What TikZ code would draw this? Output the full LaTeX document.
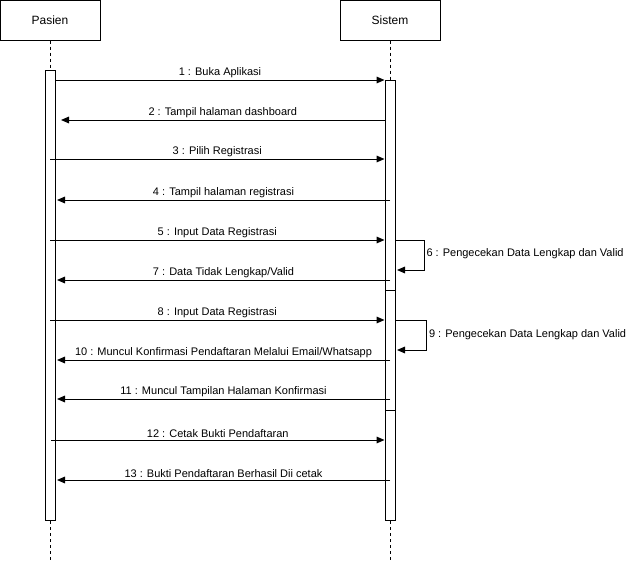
\documentclass[tikz,border=0pt]{standalone}
\usepackage{fontspec}
\setmainfont{Liberation Sans}
\usetikzlibrary{positioning, arrows.meta}

\begin{document}
\begin{tikzpicture}[x = 0.75pt, y = -0.75pt, line width = 0.75pt,
		actor/.style={rectangle, draw, inner sep = 0pt, minimum width = 75pt, minimum height = 30pt, font = \fontsize{9pt}{11pt}\selectfont},
		bar/.style={rectangle, draw, fill = white, inner sep = 0pt, minimum width = 7.5pt, anchor = north},
		life/.style={dash pattern = on 2.25pt off 2.25pt},
		msg/.style={-{Triangle[length = 6pt, width = 5pt]}},
		lbl/.style={above, inner sep = 1.5pt, font = \fontsize{8.25pt}{10pt}\selectfont},
		selflbl/.style={anchor = west, inner sep = 0pt, font = \fontsize{8.25pt}{10pt}\selectfont}
	]
	\useasboundingbox (0, 0) rectangle (626, 561);
	
	% actors
	\node[actor] (pasien) at (50, 20) {Pasien};
	\node[actor] (sistem) at (390, 20) {Sistem};
	
	% activation bars
	\node[bar, minimum height = 337.5pt] (barP) at (50, 70) {};
	\node[bar, minimum height = 157.5pt] (barS1) at (390, 80) {};
	\node[bar, minimum height = 90pt] (barS2) at (390, 290) {};
	\node[bar, minimum height = 82.5pt] (barS3) at (390, 410) {};
	
	% lifelines
	\draw[life] (pasien.south) -- (barP.north);
	\draw[life] (barP.south) -- (50, 561);
	\draw[life] (sistem.south) -- (barS1.north);
	\draw[life] (barS3.south) -- (390, 561);
	
	% messages
	\draw[msg] (barP.east |- 0, 80) -- node[lbl] {1 : Buka Aplikasi} (barS1.west |- 0, 80);
	\draw[msg] (barS1.west |- 0, 120) -- node[lbl] {2 : Tampil halaman dashboard} (61, 120);
	\draw[msg] (barP.north |- 0, 159) -- node[lbl] {3 : Pilih Registrasi} (barS1.west |- 0, 159);
	\draw[msg] (barS1.north |- 0, 200) -- node[lbl] {4 : Tampil halaman registrasi} (57, 200);
	\draw[msg] (barP.north |- 0, 240) -- node[lbl] {5 : Input Data Registrasi} (barS1.west |- 0, 240);
	\draw[msg] (barS1.east |- 0, 240) -- (424, 240) -- (424, 270) -- (397, 270);
	\node[selflbl] (self6) at (426, 254) {6 : Pengecekan Data Lengkap dan Valid};
	\draw[msg] (barS1.north |- 0, 280) -- node[lbl] {7 : Data Tidak Lengkap/Valid} (57, 280);
	
	\draw[msg] (barP.north |- 0, 320) -- node[lbl] {8 : Input Data Registrasi} (barS2.west |- 0, 320);
	\draw[msg] (barS2.east |- 0, 320) -- (426, 320) -- (426, 350) -- (397, 350);
	\node[selflbl] (self9) at (428.5, 335) {9 : Pengecekan Data Lengkap dan Valid};
	\draw[msg] (barS2.north |- 0, 360) -- node[lbl] {10 : Muncul Konfirmasi Pendaftaran Melalui Email/Whatsapp} (57, 360);
	\draw[msg] (barS2.north |- 0, 399) -- node[lbl] {11 : Muncul Tampilan Halaman Konfirmasi} (57, 399);
	
	\draw[msg] (51, 440) -- node[lbl] {12 : Cetak Bukti Pendaftaran} (barS3.west |- 0, 440);
	\draw[msg] (barS3.north |- 0, 480) -- node[lbl] {13 : Bukti Pendaftaran Berhasil Dii cetak} (57, 480);
	
\end{tikzpicture}
\end{document}
